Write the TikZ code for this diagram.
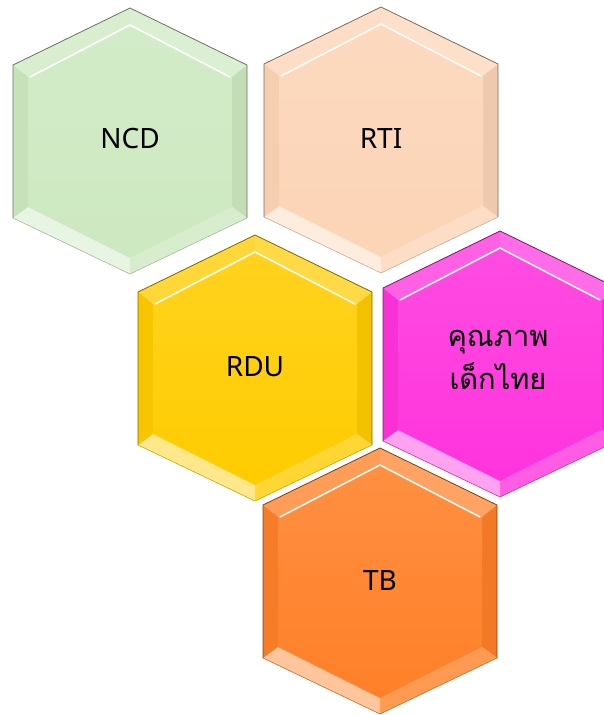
\documentclass[tikz,border=0pt]{standalone}
\usepackage{fontspec}
\setmainfont{Noto Sans}
\newfontfamily\thaifont[Script=Thai]{Loma}
\usepackage{xcolor}

\definecolor{ncdgreen}{RGB}{205,233,193}
\definecolor{rtipeach}{RGB}{252,212,182}
\definecolor{rdugold}{RGB}{255,204,0}
\definecolor{thaipink}{RGB}{255,51,221}
\definecolor{tborange}{RGB}{255,128,40}

% one bevelled hexagon: centre, colour
\newcommand{\hexcell}[2]{%
\begin{scope}[shift={#1}]
\fill[#2!78!white] (-117,-76) -- (0,-133) -- (0,-117) -- (-102,-64) -- cycle;
\fill[#2!72!white] (0,-133) -- (117,-76) -- (102,-64) -- (0,-117) -- cycle;
\fill[#2!95!black] (117,-76) -- (117,77) -- (102,66) -- (102,-64) -- cycle;
\fill[#2!80!white] (117,77) -- (0,133) -- (0,117) -- (102,66) -- cycle;
\fill[#2!45!white] (0,133) -- (-117,77) -- (-102,66) -- (0,117) -- cycle;
\fill[#2!97!black] (-117,77) -- (-117,-76) -- (-102,-64) -- (-102,66) -- cycle;
\shade[top color=#2!88!white,bottom color=#2] (-102,-64) -- (0,-117) -- (102,-64) -- (102,66) -- (0,117) -- (-102,66) -- cycle;
\draw[white,line width=1.5pt,line cap=round] (-100,-64) -- (0,-116) -- (100,-64);
\draw[#2!50!black,line width=0.8pt] (-117,77) -- (-117,-76) -- (0,-133) -- (117,-76) -- (117,77);
\draw[#2!80!black,line width=0.6pt] (117,77) -- (0,133) -- (-117,77);
\end{scope}}

\begin{document}
\begin{tikzpicture}[x=1pt,y=-1pt,
  celltext/.style={font=\fontsize{28}{34}\selectfont,text=black,inner sep=0}]
\useasboundingbox (0,0) rectangle (604,715);
\clip (0,0) rectangle (604,715);
% hexagons
\hexcell{(130,141)}{ncdgreen}
\hexcell{(381,140)}{rtipeach}
\hexcell{(255,368)}{rdugold}
\hexcell{(500,364)}{thaipink}
\hexcell{(380,581)}{tborange}
% labels
\node[celltext] (ncd) at (130,139) {NCD};
\node[celltext] (rti) at (381,139) {RTI};
\node[celltext] (rdu) at (255,367) {RDU};
\node[celltext,align=center,font=\thaifont\fontsize{29}{43}\selectfont] (thai) at (498,360) {คุณภาพ\\เด็กไทย};
\node[celltext] (tb) at (380,580) {TB};
\end{tikzpicture}
\end{document}
